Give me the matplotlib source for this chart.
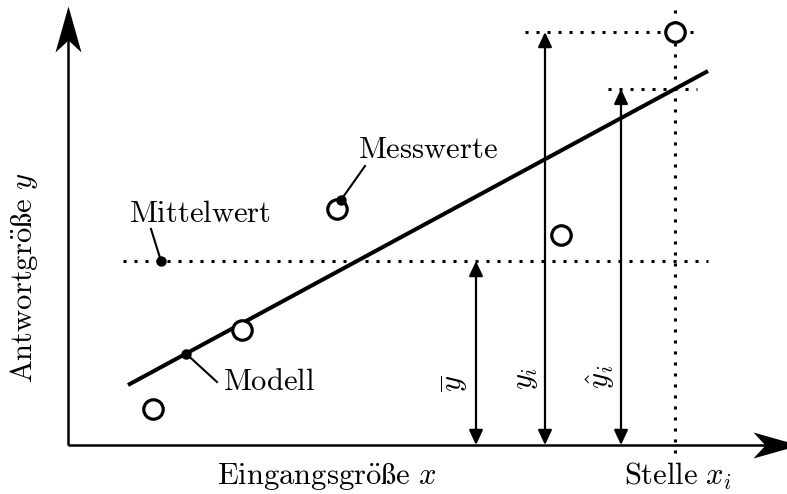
import matplotlib
matplotlib.use("Agg")
import numpy as np
import matplotlib.pyplot as plt
from matplotlib.path import Path
from matplotlib.patches import FancyArrowPatch

plt.rcParams['mathtext.fontset'] = 'cm'

# measured points
x_meas = [85, 174, 269, 493, 607]
y_meas = [36, 115, 236, 210, 413]

# linear model y = a + b*x, drawn over this x range
model_a = 27.5
model_b = 0.5414
model_x = [60, 640]

# mean response and highlighted position x_i
y_mean = 184
mean_x = [55, 640]
x_i = 607
y_i = 413
yhat_i = model_a + model_b * x_i

# positions of the three vertical dimension arrows
arrow_x = {"ybar": 408, "yi": 477, "yhat": 553}

fig = plt.figure(figsize=(7.87, 4.94), dpi=100)
ax = fig.add_axes([0, 0, 1, 1])
ax.set_xlim(-68, 719)
ax.set_ylim(-49, 445)
ax.axis('off')

FS = 22
black = 'black'

# stealth-like arrow heads for the axes
head_up = Path([(0, 0), (13, -46), (0, -34), (-13, -46), (0, 0)],
               [Path.MOVETO, Path.LINETO, Path.LINETO, Path.LINETO, Path.CLOSEPOLY])
head_right = Path([(0, 0), (-46, 13), (-34, 0), (-46, -13), (0, 0)],
                  [Path.MOVETO, Path.LINETO, Path.LINETO, Path.LINETO, Path.CLOSEPOLY])
msize = 2 * 46 / 1.389

ax.plot([0, 0], [0, 410], color=black, lw=1.8, solid_capstyle='butt')
ax.plot([0], [439], marker=head_up, markersize=msize, color=black, mew=0, clip_on=False)
ax.plot([0, 700], [0, 0], color=black, lw=1.8, solid_capstyle='butt')
ax.plot([731], [0], marker=head_right, markersize=msize, color=black, mew=0, clip_on=False)

dots = dict(color=black, lw=2.2, linestyle=(0, (1, 2.6)))

# dotted guide lines
ax.plot(mean_x, [y_mean, y_mean], **dots)
ax.plot([457, 629], [y_i, y_i], **dots)
ax.plot([540, 629], [yhat_i, yhat_i], **dots)
ax.plot([x_i, x_i], [-8, 437], **dots)

# model line
mx = np.array(model_x)
ax.plot(mx, model_a + model_b * mx, color=black, lw=2.9, solid_capstyle='butt')

# measured values
ax.plot(x_meas, y_meas, 'o', ms=14, mfc='white', mec=black, mew=2.3, zorder=5)

# dimension arrows
def dim_arrow(x, y1):
    a = FancyArrowPatch((x, 0), (x, y1),
                        arrowstyle='<|-|>,head_length=9,head_width=4.2',
                        mutation_scale=1, shrinkA=0, shrinkB=0,
                        color=black, lw=1.6, zorder=4)
    ax.add_patch(a)

dim_arrow(arrow_x["ybar"], y_mean)
dim_arrow(arrow_x["yi"], y_i)
dim_arrow(arrow_x["yhat"], yhat_i)

ax.text(arrow_x["ybar"] - 21, 62, r'$\overline{y}$', rotation=90, fontsize=FS,
        ha='center', va='center')
ax.text(arrow_x["yi"] - 19, 67, r'$y_i$', rotation=90, fontsize=FS,
        ha='center', va='center')
ax.text(arrow_x["yhat"] - 20, 68, r'$\hat{y}_i$', rotation=90, fontsize=FS,
        ha='center', va='center')

# labels with leader lines
def leader(p, q):
    ax.plot([p[0], q[0]], [p[1], q[1]], color=black, lw=1.5, zorder=6)
    ax.plot([p[0]], [p[1]], 'o', ms=6.5, color=black, zorder=7)

leader((93, y_mean), (83, 216))
leader((273, 245), (297, 279))
xm = 118
leader((xm, model_a + model_b * xm), (149, 63))

ax.text(61, 232, r'$\mathrm{Mittelwert}$', fontsize=FS, ha='left', va='center')
ax.text(290, 295, r'$\mathrm{Messwerte}$', fontsize=FS, ha='left', va='center')
ax.text(155, 64, r'$\mathrm{Modell}$', fontsize=FS, ha='left', va='center')

# axis titles
ax.text(-44, 167, r'$\mathrm{Antwortgr\ddot{o}\ss e}\ y$', rotation=90, fontsize=FS,
        ha='center', va='center')
ax.text(259, -31, r'$\mathrm{Eingangsgr\ddot{o}\ss e}\ x$', fontsize=FS,
        ha='center', va='center')
ax.text(610, -31, r'$\mathrm{Stelle}\ x_i$', fontsize=FS, ha='center', va='center')

fig.savefig("out.png", dpi=100)
